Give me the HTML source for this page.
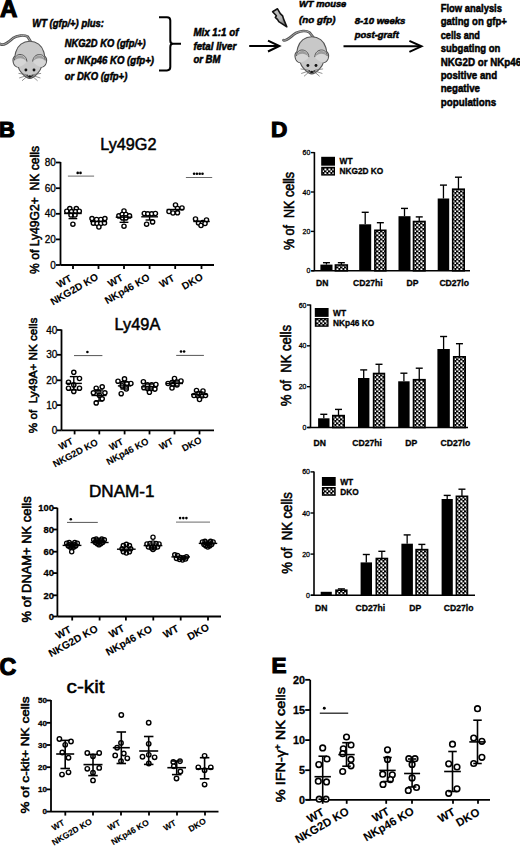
<!DOCTYPE html>
<html><head><meta charset="utf-8"><style>
html,body{margin:0;padding:0;background:#fff;}
svg{display:block;} text{white-space:pre;}
text{font-family:"Liberation Sans", sans-serif;stroke:#000;stroke-width:0.3px;}
</style></head><body>
<svg width="520" height="846" viewBox="0 0 520 846">
<rect width="520" height="846" fill="#fff"/>
<text x="0.00" y="17.20" font-size="24" font-weight="bold" style="stroke-width:1.2px">A</text>
<text x="32.30" y="27.00" font-size="10" font-weight="bold" font-style="italic" textLength="71.70" lengthAdjust="spacingAndGlyphs" style="stroke-width:0.5px">WT (gfp/+) plus:</text>
<text x="64.80" y="46.50" font-size="10" font-weight="bold" font-style="italic" textLength="80.80" lengthAdjust="spacingAndGlyphs" style="stroke-width:0.5px">NKG2D KO (gfp/+)</text>
<text x="64.80" y="63.50" font-size="10" font-weight="bold" font-style="italic" textLength="89.20" lengthAdjust="spacingAndGlyphs" style="stroke-width:0.5px">or NKp46 KO (gfp+)</text>
<text x="64.80" y="80.20" font-size="10" font-weight="bold" font-style="italic" textLength="62.50" lengthAdjust="spacingAndGlyphs" style="stroke-width:0.5px">or DKO (gfp+)</text>
<path d="M159,17.2 L167,17.2 Q170.3,17.2 170.3,20.5 L170.3,40.5 Q170.3,43.8 173,43.8 L181,43.8 M173,43.8 Q170.3,43.8 170.3,47 L170.3,67 Q170.3,70.4 167,70.4 L159,70.4" fill="none" stroke="#000" stroke-width="2"/>
<text x="193.40" y="35.60" font-size="10" font-weight="bold" font-style="italic" textLength="45.00" lengthAdjust="spacingAndGlyphs" style="stroke-width:0.5px">Mix 1:1 of</text>
<text x="193.40" y="49.60" font-size="10" font-weight="bold" font-style="italic" textLength="42.80" lengthAdjust="spacingAndGlyphs" style="stroke-width:0.5px">fetal liver</text>
<text x="193.40" y="63.30" font-size="10" font-weight="bold" font-style="italic" textLength="27.00" lengthAdjust="spacingAndGlyphs" style="stroke-width:0.5px">or BM</text>
<line x1="249.20" y1="46.00" x2="279.00" y2="46.00" stroke="#000" stroke-width="2"/>
<path d="M268,40.6 L279.4,46 L268,51.5" fill="none" stroke="#000" stroke-width="2"/>
<defs><linearGradient id="lg" x1="0" y1="0" x2="1" y2="1"><stop offset="0" stop-color="#c8c8c8"/><stop offset="0.6" stop-color="#b0b0b0"/><stop offset="1" stop-color="#444"/></linearGradient></defs>
<path d="M272.6,11.8 L277.5,8.8 L280.3,13.6 L282.6,15.8 L283.5,18.9 L286.8,26.8 L278.8,21.6 L277.6,19.6 L275.3,17.4 L276.4,15.8 Z" fill="url(#lg)" stroke="#111" stroke-width="1.6" stroke-linejoin="round"/>
<text x="299.00" y="6.80" font-size="9.5" font-weight="bold" font-style="italic" textLength="47.30" lengthAdjust="spacingAndGlyphs" style="stroke-width:0.5px">WT mouse</text>
<text x="299.00" y="22.50" font-size="9.8" font-weight="bold" font-style="italic" textLength="36.40" lengthAdjust="spacingAndGlyphs" style="stroke-width:0.5px">(no gfp)</text>
<text x="354.80" y="24.20" font-size="9.6" font-weight="bold" font-style="italic" textLength="50.60" lengthAdjust="spacingAndGlyphs" style="stroke-width:0.5px">8-10 weeks</text>
<text x="354.80" y="37.70" font-size="9.4" font-weight="bold" font-style="italic" textLength="44.00" lengthAdjust="spacingAndGlyphs" style="stroke-width:0.5px">post-graft</text>
<line x1="343.50" y1="46.30" x2="421.00" y2="46.30" stroke="#000" stroke-width="2"/>
<path d="M409.4,40.8 L421.5,46.3 L409.4,51.8" fill="none" stroke="#000" stroke-width="2"/>
<text x="440.70" y="11.90" font-size="10.8" font-weight="bold" textLength="61.30" lengthAdjust="spacingAndGlyphs" style="stroke-width:0.5px">Flow analysis</text>
<text x="440.70" y="25.32" font-size="10.8" font-weight="bold" textLength="66.20" lengthAdjust="spacingAndGlyphs" style="stroke-width:0.5px">gating on gfp+</text>
<text x="440.70" y="38.74" font-size="10.8" font-weight="bold" textLength="39.30" lengthAdjust="spacingAndGlyphs" style="stroke-width:0.5px">cells and</text>
<text x="440.70" y="52.16" font-size="10.8" font-weight="bold" textLength="59.70" lengthAdjust="spacingAndGlyphs" style="stroke-width:0.5px">subgating on</text>
<text x="440.70" y="65.58" font-size="10.8" font-weight="bold" textLength="80.50" lengthAdjust="spacingAndGlyphs" style="stroke-width:0.5px">NKG2D or NKp46</text>
<text x="440.70" y="79.00" font-size="10.8" font-weight="bold" textLength="56.40" lengthAdjust="spacingAndGlyphs" style="stroke-width:0.5px">positive and</text>
<text x="440.70" y="92.42" font-size="10.8" font-weight="bold" textLength="39.30" lengthAdjust="spacingAndGlyphs" style="stroke-width:0.5px">negative</text>
<text x="440.70" y="105.84" font-size="10.8" font-weight="bold" textLength="55.60" lengthAdjust="spacingAndGlyphs" style="stroke-width:0.5px">populations</text>
<path d="M0.3,44 C3.5,46.3 8,42.5 13,38.2 C17,35.5 24,34.6 27.6,36.6 L30.6,41.5" fill="none" stroke="#555" stroke-width="2.7" stroke-linecap="round"/>
<path d="M0.3,44 C3.5,46.3 8,42.5 13,38.2 C17,35.5 24,34.6 27.6,36.6 L30.6,41.5" fill="none" stroke="#aaa" stroke-width="1.0" stroke-linecap="round"/>
<g transform="translate(0,0)"><path d="M29.8,41.2 C36.5,41.2 42,45.5 43.8,52 C44.2,53.5 44.5,55 44.6,56 C46.5,57.5 47,60 46.3,62.5 C45.5,65.5 43,67 41.2,67.3 C40.6,70.2 36.4,75.2 33.2,77.2 C32,77.9 30.9,78.4 29.8,78.4 C28.7,78.4 27.6,77.9 26.4,77.2 C23.2,75.2 19,70.2 18.4,67.3 C16.6,67 14.1,65.5 13.3,62.5 C12.6,60 13.1,57.5 15,56 C15.1,55 15.4,53.5 15.8,52 C17.6,45.5 23.1,41.2 29.8,41.2 Z" fill="#c8c8c8" stroke="#555" stroke-width="1.1"/><path d="M14.2,60.5 C14.8,56.2 17.3,54.5 20,54.5 C23.6,54.5 26.6,57 26.9,61.5 C25,64.5 21,66.8 18.4,67.1 C16.4,66.6 14.3,64.8 13.8,62.5 Z" fill="#d6d6d6"/><path d="M45.4,60.5 C44.8,56.2 42.3,54.5 39.6,54.5 C36,54.5 33,57 32.7,61.5 C34.6,64.5 38.6,66.8 41.2,67.1 C43.2,66.6 45.3,64.8 45.8,62.5 Z" fill="#d6d6d6"/><path d="M15,60.2 C15.8,57 17.8,55.6 20.1,55.6 C23,55.6 25.5,57.6 26,60.8 C24.6,59 22.6,58.2 20.3,58.2 C18.1,58.2 16.3,59 15,60.2 Z" fill="#9c9c9c"/><path d="M44.6,60.2 C43.8,57 41.8,55.6 39.5,55.6 C36.6,55.6 34.1,57.6 33.6,60.8 C35,59 37,58.2 39.3,58.2 C41.5,58.2 43.3,59 44.6,60.2 Z" fill="#9c9c9c"/><path d="M14.4,60.4 C14.9,56.2 17.4,54.5 20,54.5 C23.6,54.5 26.6,57 26.9,61.6 M45.2,60.4 C44.7,56.2 42.2,54.5 39.6,54.5 C36,54.5 33,57 32.7,61.6" fill="none" stroke="#555" stroke-width="1"/><circle cx="25.9" cy="70" r="1.45" fill="#111"/><circle cx="34" cy="70" r="1.45" fill="#111"/><path d="M26.6,75 C28,76.2 31.6,76.2 33,75 L31.8,77 C30.8,78 28.8,78 27.8,77 Z" fill="#333"/><circle cx="29.8" cy="76.3" r="1.1" fill="#111"/><circle cx="27.2" cy="75.6" r="1" fill="#444"/><circle cx="32.4" cy="75.6" r="1" fill="#444"/><path d="M26.5,74.6 L18.5,73.4 M26.5,75.6 L19.2,78 M27.2,76.3 L22,80.8 M33.1,74.6 L41.1,73.4 M33.1,75.6 L40.4,78 M32.4,76.3 L37.6,80.8" stroke="#666" stroke-width="0.7" fill="none"/></g>
<path d="M283.5,40.2 C287,41.5 291,36 296,33 C300,31 306,30 309.5,32.5 L313.5,37.5" fill="none" stroke="#555" stroke-width="2.7" stroke-linecap="round"/>
<path d="M283.5,40.2 C287,41.5 291,36 296,33 C300,31 306,30 309.5,32.5 L313.5,37.5" fill="none" stroke="#aaa" stroke-width="1.0" stroke-linecap="round"/>
<g transform="translate(282,-4.5)"><path d="M29.8,41.2 C36.5,41.2 42,45.5 43.8,52 C44.2,53.5 44.5,55 44.6,56 C46.5,57.5 47,60 46.3,62.5 C45.5,65.5 43,67 41.2,67.3 C40.6,70.2 36.4,75.2 33.2,77.2 C32,77.9 30.9,78.4 29.8,78.4 C28.7,78.4 27.6,77.9 26.4,77.2 C23.2,75.2 19,70.2 18.4,67.3 C16.6,67 14.1,65.5 13.3,62.5 C12.6,60 13.1,57.5 15,56 C15.1,55 15.4,53.5 15.8,52 C17.6,45.5 23.1,41.2 29.8,41.2 Z" fill="#c8c8c8" stroke="#555" stroke-width="1.1"/><path d="M14.2,60.5 C14.8,56.2 17.3,54.5 20,54.5 C23.6,54.5 26.6,57 26.9,61.5 C25,64.5 21,66.8 18.4,67.1 C16.4,66.6 14.3,64.8 13.8,62.5 Z" fill="#d6d6d6"/><path d="M45.4,60.5 C44.8,56.2 42.3,54.5 39.6,54.5 C36,54.5 33,57 32.7,61.5 C34.6,64.5 38.6,66.8 41.2,67.1 C43.2,66.6 45.3,64.8 45.8,62.5 Z" fill="#d6d6d6"/><path d="M15,60.2 C15.8,57 17.8,55.6 20.1,55.6 C23,55.6 25.5,57.6 26,60.8 C24.6,59 22.6,58.2 20.3,58.2 C18.1,58.2 16.3,59 15,60.2 Z" fill="#9c9c9c"/><path d="M44.6,60.2 C43.8,57 41.8,55.6 39.5,55.6 C36.6,55.6 34.1,57.6 33.6,60.8 C35,59 37,58.2 39.3,58.2 C41.5,58.2 43.3,59 44.6,60.2 Z" fill="#9c9c9c"/><path d="M14.4,60.4 C14.9,56.2 17.4,54.5 20,54.5 C23.6,54.5 26.6,57 26.9,61.6 M45.2,60.4 C44.7,56.2 42.2,54.5 39.6,54.5 C36,54.5 33,57 32.7,61.6" fill="none" stroke="#555" stroke-width="1"/><circle cx="25.9" cy="70" r="1.45" fill="#111"/><circle cx="34" cy="70" r="1.45" fill="#111"/><path d="M26.6,75 C28,76.2 31.6,76.2 33,75 L31.8,77 C30.8,78 28.8,78 27.8,77 Z" fill="#333"/><circle cx="29.8" cy="76.3" r="1.1" fill="#111"/><circle cx="27.2" cy="75.6" r="1" fill="#444"/><circle cx="32.4" cy="75.6" r="1" fill="#444"/><path d="M26.5,74.6 L18.5,73.4 M26.5,75.6 L19.2,78 M27.2,76.3 L22,80.8 M33.1,74.6 L41.1,73.4 M33.1,75.6 L40.4,78 M32.4,76.3 L37.6,80.8" stroke="#666" stroke-width="0.7" fill="none"/></g>
<text x="-1.00" y="136.90" font-size="22" font-weight="bold" style="stroke-width:1.2px">B</text>
<text x="100.30" y="149.60" font-size="16.3" textLength="56.20" lengthAdjust="spacingAndGlyphs" style="stroke-width:0.5px">Ly49G2</text>
<line x1="60.50" y1="162.00" x2="60.50" y2="265.00" stroke="#000" stroke-width="1.8"/>
<line x1="60.50" y1="265.00" x2="214.00" y2="265.00" stroke="#000" stroke-width="1.8"/>
<line x1="56.00" y1="265.00" x2="60.50" y2="265.00" stroke="#000" stroke-width="1.8"/>
<text x="55.80" y="268.58" font-size="10" text-anchor="end" stroke="#000" stroke-width="0.25">0</text>
<line x1="56.00" y1="239.40" x2="60.50" y2="239.40" stroke="#000" stroke-width="1.8"/>
<text x="55.80" y="242.98" font-size="10" text-anchor="end" stroke="#000" stroke-width="0.25">20</text>
<line x1="56.00" y1="213.80" x2="60.50" y2="213.80" stroke="#000" stroke-width="1.8"/>
<text x="55.80" y="217.38" font-size="10" text-anchor="end" stroke="#000" stroke-width="0.25">40</text>
<line x1="56.00" y1="188.20" x2="60.50" y2="188.20" stroke="#000" stroke-width="1.8"/>
<text x="55.80" y="191.78" font-size="10" text-anchor="end" stroke="#000" stroke-width="0.25">60</text>
<line x1="56.00" y1="162.50" x2="60.50" y2="162.50" stroke="#000" stroke-width="1.8"/>
<text x="55.80" y="166.08" font-size="10" text-anchor="end" stroke="#000" stroke-width="0.25">80</text>
<line x1="73.00" y1="265.00" x2="73.00" y2="269.00" stroke="#000" stroke-width="1.8"/>
<line x1="98.50" y1="265.00" x2="98.50" y2="269.00" stroke="#000" stroke-width="1.8"/>
<line x1="124.00" y1="265.00" x2="124.00" y2="269.00" stroke="#000" stroke-width="1.8"/>
<line x1="149.60" y1="265.00" x2="149.60" y2="269.00" stroke="#000" stroke-width="1.8"/>
<line x1="175.20" y1="265.00" x2="175.20" y2="269.00" stroke="#000" stroke-width="1.8"/>
<line x1="201.50" y1="265.00" x2="201.50" y2="269.00" stroke="#000" stroke-width="1.8"/>
<text x="38.70" y="210.00" font-size="12.6" text-anchor="middle" textLength="128.00" lengthAdjust="spacingAndGlyphs" transform="rotate(-90 38.70 210.00)" style="stroke-width:0.55px">% of Ly49G2+  NK cells</text>
<line x1="67.90" y1="176.10" x2="94.10" y2="176.10" stroke="#6a6a6a" stroke-width="1.0"/>
<circle cx="77.70" cy="172.90" r="1.3" fill="#000"/>
<circle cx="80.50" cy="172.90" r="1.3" fill="#000"/>
<line x1="185.90" y1="177.50" x2="212.20" y2="177.50" stroke="#6a6a6a" stroke-width="1.0"/>
<circle cx="194.10" cy="173.70" r="1.3" fill="#000"/>
<circle cx="196.90" cy="173.70" r="1.3" fill="#000"/>
<circle cx="199.70" cy="173.70" r="1.3" fill="#000"/>
<circle cx="202.50" cy="173.70" r="1.3" fill="#000"/>
<circle cx="69.80" cy="208.60" r="2.10" fill="#fff" stroke="#000" stroke-width="1.4"/>
<circle cx="76.30" cy="208.60" r="2.10" fill="#fff" stroke="#000" stroke-width="1.4"/>
<circle cx="66.80" cy="211.20" r="2.10" fill="#fff" stroke="#000" stroke-width="1.4"/>
<circle cx="71.50" cy="211.60" r="2.10" fill="#fff" stroke="#000" stroke-width="1.4"/>
<circle cx="75.50" cy="211.60" r="2.10" fill="#fff" stroke="#000" stroke-width="1.4"/>
<circle cx="79.30" cy="211.20" r="2.10" fill="#fff" stroke="#000" stroke-width="1.4"/>
<circle cx="71.00" cy="215.00" r="2.10" fill="#fff" stroke="#000" stroke-width="1.4"/>
<circle cx="75.00" cy="215.00" r="2.10" fill="#fff" stroke="#000" stroke-width="1.4"/>
<circle cx="72.90" cy="224.20" r="2.10" fill="#fff" stroke="#000" stroke-width="1.4"/>
<line x1="72.90" y1="213.50" x2="72.90" y2="218.60" stroke="#000" stroke-width="1.4"/>
<line x1="68.55" y1="218.60" x2="77.25" y2="218.60" stroke="#000" stroke-width="1.4"/>
<line x1="64.10" y1="213.50" x2="81.70" y2="213.50" stroke="#000" stroke-width="1.4"/>
<circle cx="92.00" cy="218.60" r="2.10" fill="#fff" stroke="#000" stroke-width="1.4"/>
<circle cx="96.60" cy="219.50" r="2.10" fill="#fff" stroke="#000" stroke-width="1.4"/>
<circle cx="100.80" cy="219.50" r="2.10" fill="#fff" stroke="#000" stroke-width="1.4"/>
<circle cx="104.90" cy="218.60" r="2.10" fill="#fff" stroke="#000" stroke-width="1.4"/>
<circle cx="93.40" cy="223.20" r="2.10" fill="#fff" stroke="#000" stroke-width="1.4"/>
<circle cx="97.10" cy="223.50" r="2.10" fill="#fff" stroke="#000" stroke-width="1.4"/>
<circle cx="100.80" cy="223.50" r="2.10" fill="#fff" stroke="#000" stroke-width="1.4"/>
<circle cx="104.50" cy="223.00" r="2.10" fill="#fff" stroke="#000" stroke-width="1.4"/>
<circle cx="98.90" cy="227.00" r="2.10" fill="#fff" stroke="#000" stroke-width="1.4"/>
<line x1="90.00" y1="221.50" x2="107.00" y2="221.50" stroke="#000" stroke-width="1.4"/>
<circle cx="124.00" cy="211.00" r="2.10" fill="#fff" stroke="#000" stroke-width="1.4"/>
<circle cx="118.90" cy="215.90" r="2.10" fill="#fff" stroke="#000" stroke-width="1.4"/>
<circle cx="122.20" cy="214.50" r="2.10" fill="#fff" stroke="#000" stroke-width="1.4"/>
<circle cx="125.90" cy="214.50" r="2.10" fill="#fff" stroke="#000" stroke-width="1.4"/>
<circle cx="129.50" cy="215.90" r="2.10" fill="#fff" stroke="#000" stroke-width="1.4"/>
<circle cx="122.60" cy="217.90" r="2.10" fill="#fff" stroke="#000" stroke-width="1.4"/>
<circle cx="125.90" cy="217.90" r="2.10" fill="#fff" stroke="#000" stroke-width="1.4"/>
<circle cx="124.00" cy="226.20" r="2.10" fill="#fff" stroke="#000" stroke-width="1.4"/>
<line x1="124.00" y1="217.20" x2="124.00" y2="222.30" stroke="#000" stroke-width="1.4"/>
<line x1="119.60" y1="222.30" x2="128.40" y2="222.30" stroke="#000" stroke-width="1.4"/>
<line x1="115.70" y1="217.20" x2="132.30" y2="217.20" stroke="#000" stroke-width="1.4"/>
<circle cx="144.30" cy="213.50" r="2.10" fill="#fff" stroke="#000" stroke-width="1.4"/>
<circle cx="147.80" cy="213.80" r="2.10" fill="#fff" stroke="#000" stroke-width="1.4"/>
<circle cx="151.70" cy="213.80" r="2.10" fill="#fff" stroke="#000" stroke-width="1.4"/>
<circle cx="155.40" cy="213.50" r="2.10" fill="#fff" stroke="#000" stroke-width="1.4"/>
<circle cx="146.60" cy="224.20" r="2.10" fill="#fff" stroke="#000" stroke-width="1.4"/>
<circle cx="152.60" cy="221.90" r="2.10" fill="#fff" stroke="#000" stroke-width="1.4"/>
<line x1="149.60" y1="216.80" x2="149.60" y2="220.00" stroke="#000" stroke-width="1.4"/>
<line x1="145.60" y1="220.00" x2="153.60" y2="220.00" stroke="#000" stroke-width="1.4"/>
<line x1="141.25" y1="216.80" x2="157.95" y2="216.80" stroke="#000" stroke-width="1.4"/>
<circle cx="175.50" cy="205.00" r="2.10" fill="#fff" stroke="#000" stroke-width="1.4"/>
<circle cx="177.50" cy="208.50" r="2.10" fill="#fff" stroke="#000" stroke-width="1.4"/>
<circle cx="182.00" cy="208.00" r="2.10" fill="#fff" stroke="#000" stroke-width="1.4"/>
<circle cx="169.00" cy="211.50" r="2.10" fill="#fff" stroke="#000" stroke-width="1.4"/>
<circle cx="173.00" cy="213.00" r="2.10" fill="#fff" stroke="#000" stroke-width="1.4"/>
<circle cx="177.50" cy="212.80" r="2.10" fill="#fff" stroke="#000" stroke-width="1.4"/>
<line x1="166.70" y1="209.50" x2="183.70" y2="209.50" stroke="#000" stroke-width="1.4"/>
<circle cx="195.50" cy="219.00" r="2.10" fill="#fff" stroke="#000" stroke-width="1.4"/>
<circle cx="206.50" cy="220.00" r="2.10" fill="#fff" stroke="#000" stroke-width="1.4"/>
<circle cx="198.50" cy="223.00" r="2.10" fill="#fff" stroke="#000" stroke-width="1.4"/>
<circle cx="202.50" cy="222.50" r="2.10" fill="#fff" stroke="#000" stroke-width="1.4"/>
<circle cx="201.00" cy="225.50" r="2.10" fill="#fff" stroke="#000" stroke-width="1.4"/>
<circle cx="205.00" cy="223.50" r="2.10" fill="#fff" stroke="#000" stroke-width="1.4"/>
<line x1="193.25" y1="221.50" x2="209.75" y2="221.50" stroke="#000" stroke-width="1.4"/>
<text x="72.60" y="280.30" font-size="10.1" font-weight="bold" text-anchor="end" transform="rotate(-30 72.60 280.30)" style="stroke-width:0.1px">WT</text>
<text x="99.15" y="278.90" font-size="10.1" font-weight="bold" text-anchor="end" transform="rotate(-30 99.15 278.90)" style="stroke-width:0.1px">NKG2D KO</text>
<text x="123.75" y="279.60" font-size="10.1" font-weight="bold" text-anchor="end" transform="rotate(-30 123.75 279.60)" style="stroke-width:0.1px">WT</text>
<text x="150.50" y="279.35" font-size="10.1" font-weight="bold" text-anchor="end" transform="rotate(-30 150.50 279.35)" style="stroke-width:0.1px">NKp46 KO</text>
<text x="175.25" y="280.10" font-size="10.1" font-weight="bold" text-anchor="end" transform="rotate(-30 175.25 280.10)" style="stroke-width:0.1px">WT</text>
<text x="203.75" y="278.85" font-size="10.1" font-weight="bold" text-anchor="end" transform="rotate(-30 203.75 278.85)" style="stroke-width:0.1px">DKO</text>
<text x="114.60" y="329.90" font-size="16.3" textLength="45.70" lengthAdjust="spacingAndGlyphs" style="stroke-width:0.5px">Ly49A</text>
<line x1="61.50" y1="329.50" x2="61.50" y2="430.40" stroke="#000" stroke-width="1.8"/>
<line x1="61.50" y1="430.40" x2="214.00" y2="430.40" stroke="#000" stroke-width="1.8"/>
<line x1="57.00" y1="430.40" x2="61.50" y2="430.40" stroke="#000" stroke-width="1.8"/>
<text x="57.30" y="433.98" font-size="10" text-anchor="end" stroke="#000" stroke-width="0.25">0</text>
<line x1="57.00" y1="405.10" x2="61.50" y2="405.10" stroke="#000" stroke-width="1.8"/>
<text x="57.30" y="408.68" font-size="10" text-anchor="end" stroke="#000" stroke-width="0.25">10</text>
<line x1="57.00" y1="380.30" x2="61.50" y2="380.30" stroke="#000" stroke-width="1.8"/>
<text x="57.30" y="383.88" font-size="10" text-anchor="end" stroke="#000" stroke-width="0.25">20</text>
<line x1="57.00" y1="354.80" x2="61.50" y2="354.80" stroke="#000" stroke-width="1.8"/>
<text x="57.30" y="358.38" font-size="10" text-anchor="end" stroke="#000" stroke-width="0.25">30</text>
<line x1="57.00" y1="330.00" x2="61.50" y2="330.00" stroke="#000" stroke-width="1.8"/>
<text x="57.30" y="333.58" font-size="10" text-anchor="end" stroke="#000" stroke-width="0.25">40</text>
<line x1="74.60" y1="430.40" x2="74.60" y2="434.40" stroke="#000" stroke-width="1.8"/>
<line x1="99.30" y1="430.40" x2="99.30" y2="434.40" stroke="#000" stroke-width="1.8"/>
<line x1="124.60" y1="430.40" x2="124.60" y2="434.40" stroke="#000" stroke-width="1.8"/>
<line x1="149.50" y1="430.40" x2="149.50" y2="434.40" stroke="#000" stroke-width="1.8"/>
<line x1="174.50" y1="430.40" x2="174.50" y2="434.40" stroke="#000" stroke-width="1.8"/>
<line x1="199.50" y1="430.40" x2="199.50" y2="434.40" stroke="#000" stroke-width="1.8"/>
<text x="36.60" y="375.40" font-size="11.4" text-anchor="middle" textLength="115.50" lengthAdjust="spacingAndGlyphs" transform="rotate(-90 36.60 375.40)" style="stroke-width:0.55px">% of  Ly49A+ NK cells</text>
<line x1="74.00" y1="355.60" x2="102.40" y2="355.60" stroke="#555" stroke-width="1.0"/>
<circle cx="87.40" cy="352.00" r="1.3" fill="#000"/>
<line x1="176.20" y1="355.40" x2="203.90" y2="355.40" stroke="#555" stroke-width="1.0"/>
<circle cx="181.00" cy="351.50" r="1.3" fill="#000"/>
<circle cx="184.10" cy="351.50" r="1.3" fill="#000"/>
<circle cx="73.80" cy="372.30" r="2.10" fill="#fff" stroke="#000" stroke-width="1.4"/>
<circle cx="79.50" cy="378.50" r="2.10" fill="#fff" stroke="#000" stroke-width="1.4"/>
<circle cx="68.50" cy="382.20" r="2.10" fill="#fff" stroke="#000" stroke-width="1.4"/>
<circle cx="73.80" cy="384.90" r="2.10" fill="#fff" stroke="#000" stroke-width="1.4"/>
<circle cx="68.50" cy="388.20" r="2.10" fill="#fff" stroke="#000" stroke-width="1.4"/>
<circle cx="79.50" cy="388.20" r="2.10" fill="#fff" stroke="#000" stroke-width="1.4"/>
<circle cx="73.80" cy="391.40" r="2.10" fill="#fff" stroke="#000" stroke-width="1.4"/>
<line x1="73.80" y1="376.60" x2="73.80" y2="390.00" stroke="#000" stroke-width="1.4"/>
<line x1="69.85" y1="376.60" x2="77.75" y2="376.60" stroke="#000" stroke-width="1.4"/>
<line x1="69.85" y1="390.00" x2="77.75" y2="390.00" stroke="#000" stroke-width="1.4"/>
<line x1="65.75" y1="383.40" x2="81.85" y2="383.40" stroke="#000" stroke-width="1.4"/>
<circle cx="96.20" cy="388.20" r="2.10" fill="#fff" stroke="#000" stroke-width="1.4"/>
<circle cx="102.20" cy="386.80" r="2.10" fill="#fff" stroke="#000" stroke-width="1.4"/>
<circle cx="93.40" cy="392.80" r="2.10" fill="#fff" stroke="#000" stroke-width="1.4"/>
<circle cx="98.90" cy="392.30" r="2.10" fill="#fff" stroke="#000" stroke-width="1.4"/>
<circle cx="104.90" cy="392.80" r="2.10" fill="#fff" stroke="#000" stroke-width="1.4"/>
<circle cx="99.40" cy="395.50" r="2.10" fill="#fff" stroke="#000" stroke-width="1.4"/>
<circle cx="102.20" cy="398.80" r="2.10" fill="#fff" stroke="#000" stroke-width="1.4"/>
<circle cx="96.20" cy="402.90" r="2.10" fill="#fff" stroke="#000" stroke-width="1.4"/>
<line x1="99.00" y1="390.00" x2="99.00" y2="401.00" stroke="#000" stroke-width="1.4"/>
<line x1="95.00" y1="390.00" x2="103.00" y2="390.00" stroke="#000" stroke-width="1.4"/>
<line x1="95.00" y1="401.00" x2="103.00" y2="401.00" stroke="#000" stroke-width="1.4"/>
<line x1="91.50" y1="395.50" x2="106.50" y2="395.50" stroke="#000" stroke-width="1.4"/>
<circle cx="118.00" cy="381.20" r="2.10" fill="#fff" stroke="#000" stroke-width="1.4"/>
<circle cx="124.50" cy="378.90" r="2.10" fill="#fff" stroke="#000" stroke-width="1.4"/>
<circle cx="130.90" cy="383.50" r="2.10" fill="#fff" stroke="#000" stroke-width="1.4"/>
<circle cx="122.60" cy="383.50" r="2.10" fill="#fff" stroke="#000" stroke-width="1.4"/>
<circle cx="126.80" cy="383.50" r="2.10" fill="#fff" stroke="#000" stroke-width="1.4"/>
<circle cx="122.20" cy="385.90" r="2.10" fill="#fff" stroke="#000" stroke-width="1.4"/>
<circle cx="126.30" cy="387.20" r="2.10" fill="#fff" stroke="#000" stroke-width="1.4"/>
<circle cx="126.30" cy="389.00" r="2.10" fill="#fff" stroke="#000" stroke-width="1.4"/>
<circle cx="121.20" cy="393.70" r="2.10" fill="#fff" stroke="#000" stroke-width="1.4"/>
<line x1="124.50" y1="382.00" x2="124.50" y2="389.00" stroke="#000" stroke-width="1.4"/>
<line x1="120.50" y1="382.00" x2="128.50" y2="382.00" stroke="#000" stroke-width="1.4"/>
<line x1="120.50" y1="389.00" x2="128.50" y2="389.00" stroke="#000" stroke-width="1.4"/>
<line x1="117.85" y1="385.90" x2="131.15" y2="385.90" stroke="#000" stroke-width="1.4"/>
<circle cx="143.40" cy="381.70" r="2.10" fill="#fff" stroke="#000" stroke-width="1.4"/>
<circle cx="147.50" cy="384.90" r="2.10" fill="#fff" stroke="#000" stroke-width="1.4"/>
<circle cx="151.70" cy="384.90" r="2.10" fill="#fff" stroke="#000" stroke-width="1.4"/>
<circle cx="155.90" cy="384.50" r="2.10" fill="#fff" stroke="#000" stroke-width="1.4"/>
<circle cx="143.90" cy="387.70" r="2.10" fill="#fff" stroke="#000" stroke-width="1.4"/>
<circle cx="147.50" cy="388.60" r="2.10" fill="#fff" stroke="#000" stroke-width="1.4"/>
<circle cx="151.20" cy="388.60" r="2.10" fill="#fff" stroke="#000" stroke-width="1.4"/>
<circle cx="154.90" cy="389.10" r="2.10" fill="#fff" stroke="#000" stroke-width="1.4"/>
<circle cx="149.40" cy="392.30" r="2.10" fill="#fff" stroke="#000" stroke-width="1.4"/>
<line x1="149.50" y1="384.00" x2="149.50" y2="389.00" stroke="#000" stroke-width="1.4"/>
<line x1="145.50" y1="384.00" x2="153.50" y2="384.00" stroke="#000" stroke-width="1.4"/>
<line x1="145.50" y1="389.00" x2="153.50" y2="389.00" stroke="#000" stroke-width="1.4"/>
<line x1="141.40" y1="386.80" x2="157.60" y2="386.80" stroke="#000" stroke-width="1.4"/>
<circle cx="174.50" cy="378.50" r="2.10" fill="#fff" stroke="#000" stroke-width="1.4"/>
<circle cx="181.00" cy="381.00" r="2.10" fill="#fff" stroke="#000" stroke-width="1.4"/>
<circle cx="177.00" cy="382.00" r="2.10" fill="#fff" stroke="#000" stroke-width="1.4"/>
<circle cx="168.00" cy="383.50" r="2.10" fill="#fff" stroke="#000" stroke-width="1.4"/>
<circle cx="172.00" cy="382.50" r="2.10" fill="#fff" stroke="#000" stroke-width="1.4"/>
<circle cx="177.00" cy="385.00" r="2.10" fill="#fff" stroke="#000" stroke-width="1.4"/>
<circle cx="173.00" cy="384.50" r="2.10" fill="#fff" stroke="#000" stroke-width="1.4"/>
<circle cx="172.00" cy="388.00" r="2.10" fill="#fff" stroke="#000" stroke-width="1.4"/>
<line x1="174.50" y1="381.00" x2="174.50" y2="386.00" stroke="#000" stroke-width="1.4"/>
<line x1="170.50" y1="381.00" x2="178.50" y2="381.00" stroke="#000" stroke-width="1.4"/>
<line x1="170.50" y1="386.00" x2="178.50" y2="386.00" stroke="#000" stroke-width="1.4"/>
<line x1="166.00" y1="383.50" x2="183.00" y2="383.50" stroke="#000" stroke-width="1.4"/>
<circle cx="196.50" cy="390.50" r="2.10" fill="#fff" stroke="#000" stroke-width="1.4"/>
<circle cx="203.00" cy="391.00" r="2.10" fill="#fff" stroke="#000" stroke-width="1.4"/>
<circle cx="194.00" cy="395.50" r="2.10" fill="#fff" stroke="#000" stroke-width="1.4"/>
<circle cx="198.00" cy="396.00" r="2.10" fill="#fff" stroke="#000" stroke-width="1.4"/>
<circle cx="202.00" cy="396.00" r="2.10" fill="#fff" stroke="#000" stroke-width="1.4"/>
<circle cx="205.50" cy="395.50" r="2.10" fill="#fff" stroke="#000" stroke-width="1.4"/>
<circle cx="199.50" cy="399.50" r="2.10" fill="#fff" stroke="#000" stroke-width="1.4"/>
<circle cx="199.00" cy="393.50" r="2.10" fill="#fff" stroke="#000" stroke-width="1.4"/>
<line x1="199.50" y1="392.00" x2="199.50" y2="397.00" stroke="#000" stroke-width="1.4"/>
<line x1="195.50" y1="392.00" x2="203.50" y2="392.00" stroke="#000" stroke-width="1.4"/>
<line x1="195.50" y1="397.00" x2="203.50" y2="397.00" stroke="#000" stroke-width="1.4"/>
<line x1="191.00" y1="394.50" x2="208.00" y2="394.50" stroke="#000" stroke-width="1.4"/>
<text x="73.70" y="443.35" font-size="9.4" font-weight="bold" text-anchor="end" transform="rotate(-28 73.70 443.35)" style="stroke-width:0.1px">WT</text>
<text x="98.65" y="444.30" font-size="9.4" font-weight="bold" text-anchor="end" transform="rotate(-28 98.65 444.30)" style="stroke-width:0.1px">NKG2D KO</text>
<text x="124.10" y="443.90" font-size="9.4" font-weight="bold" text-anchor="end" transform="rotate(-28 124.10 443.90)" style="stroke-width:0.1px">WT</text>
<text x="149.45" y="443.45" font-size="9.4" font-weight="bold" text-anchor="end" transform="rotate(-28 149.45 443.45)" style="stroke-width:0.1px">NKp46 KO</text>
<text x="174.00" y="443.30" font-size="9.4" font-weight="bold" text-anchor="end" transform="rotate(-28 174.00 443.30)" style="stroke-width:0.1px">WT</text>
<text x="202.35" y="442.05" font-size="9.4" font-weight="bold" text-anchor="end" transform="rotate(-28 202.35 442.05)" style="stroke-width:0.1px">DKO</text>
<text x="89.00" y="496.60" font-size="16.6" textLength="65.40" lengthAdjust="spacingAndGlyphs" style="stroke-width:0.5px">DNAM-1</text>
<line x1="57.40" y1="507.80" x2="57.40" y2="616.50" stroke="#000" stroke-width="1.8"/>
<line x1="57.40" y1="616.50" x2="221.00" y2="616.50" stroke="#000" stroke-width="1.8"/>
<line x1="52.90" y1="616.50" x2="57.40" y2="616.50" stroke="#000" stroke-width="1.8"/>
<text x="54.00" y="619.87" font-size="9.4" font-weight="bold" text-anchor="end" stroke="#000" stroke-width="0.25">0</text>
<line x1="52.90" y1="595.30" x2="57.40" y2="595.30" stroke="#000" stroke-width="1.8"/>
<text x="54.00" y="598.67" font-size="9.4" font-weight="bold" text-anchor="end" stroke="#000" stroke-width="0.25">20</text>
<line x1="52.90" y1="573.10" x2="57.40" y2="573.10" stroke="#000" stroke-width="1.8"/>
<text x="54.00" y="576.47" font-size="9.4" font-weight="bold" text-anchor="end" stroke="#000" stroke-width="0.25">40</text>
<line x1="52.90" y1="551.70" x2="57.40" y2="551.70" stroke="#000" stroke-width="1.8"/>
<text x="54.00" y="555.07" font-size="9.4" font-weight="bold" text-anchor="end" stroke="#000" stroke-width="0.25">60</text>
<line x1="52.90" y1="529.50" x2="57.40" y2="529.50" stroke="#000" stroke-width="1.8"/>
<text x="54.00" y="532.87" font-size="9.4" font-weight="bold" text-anchor="end" stroke="#000" stroke-width="0.25">80</text>
<line x1="52.90" y1="508.10" x2="57.40" y2="508.10" stroke="#000" stroke-width="1.8"/>
<text x="54.00" y="511.47" font-size="9.4" font-weight="bold" text-anchor="end" stroke="#000" stroke-width="0.25">100</text>
<line x1="72.20" y1="616.50" x2="72.20" y2="620.50" stroke="#000" stroke-width="1.8"/>
<line x1="99.60" y1="616.50" x2="99.60" y2="620.50" stroke="#000" stroke-width="1.8"/>
<line x1="125.90" y1="616.50" x2="125.90" y2="620.50" stroke="#000" stroke-width="1.8"/>
<line x1="153.30" y1="616.50" x2="153.30" y2="620.50" stroke="#000" stroke-width="1.8"/>
<line x1="180.70" y1="616.50" x2="180.70" y2="620.50" stroke="#000" stroke-width="1.8"/>
<line x1="208.00" y1="616.50" x2="208.00" y2="620.50" stroke="#000" stroke-width="1.8"/>
<text x="31.30" y="559.40" font-size="12.5" text-anchor="middle" textLength="126.00" lengthAdjust="spacingAndGlyphs" transform="rotate(-90 31.30 559.40)" style="stroke-width:0.55px">% of DNAM+ NK cells</text>
<line x1="67.00" y1="522.40" x2="97.80" y2="522.40" stroke="#555" stroke-width="1.0"/>
<circle cx="70.80" cy="519.30" r="1.3" fill="#000"/>
<line x1="176.00" y1="522.10" x2="210.00" y2="522.10" stroke="#6a6a6a" stroke-width="1.0"/>
<circle cx="180.10" cy="518.10" r="1.3" fill="#000"/>
<circle cx="183.30" cy="518.10" r="1.3" fill="#000"/>
<circle cx="186.40" cy="518.10" r="1.3" fill="#000"/>
<circle cx="66.70" cy="543.20" r="2.10" fill="none" stroke="#000" stroke-width="1.4"/>
<circle cx="69.20" cy="542.50" r="2.10" fill="none" stroke="#000" stroke-width="1.4"/>
<circle cx="70.40" cy="544.20" r="2.10" fill="none" stroke="#000" stroke-width="1.4"/>
<circle cx="73.60" cy="544.20" r="2.10" fill="none" stroke="#000" stroke-width="1.4"/>
<circle cx="74.80" cy="542.50" r="2.10" fill="none" stroke="#000" stroke-width="1.4"/>
<circle cx="77.30" cy="543.20" r="2.10" fill="none" stroke="#000" stroke-width="1.4"/>
<circle cx="68.20" cy="545.70" r="2.10" fill="none" stroke="#000" stroke-width="1.4"/>
<circle cx="70.00" cy="547.00" r="2.10" fill="none" stroke="#000" stroke-width="1.4"/>
<circle cx="72.00" cy="548.20" r="2.10" fill="none" stroke="#000" stroke-width="1.4"/>
<circle cx="74.00" cy="547.00" r="2.10" fill="none" stroke="#000" stroke-width="1.4"/>
<circle cx="75.80" cy="545.70" r="2.10" fill="none" stroke="#000" stroke-width="1.4"/>
<circle cx="72.00" cy="545.20" r="2.10" fill="none" stroke="#000" stroke-width="1.4"/>
<line x1="62.60" y1="545.40" x2="81.40" y2="545.40" stroke="#000" stroke-width="1.4"/>
<circle cx="71.70" cy="551.80" r="2.10" fill="#fff" stroke="#000" stroke-width="1.3"/>
<circle cx="93.70" cy="539.80" r="2.10" fill="none" stroke="#000" stroke-width="1.4"/>
<circle cx="96.20" cy="539.10" r="2.10" fill="none" stroke="#000" stroke-width="1.4"/>
<circle cx="97.40" cy="540.80" r="2.10" fill="none" stroke="#000" stroke-width="1.4"/>
<circle cx="100.60" cy="540.80" r="2.10" fill="none" stroke="#000" stroke-width="1.4"/>
<circle cx="101.80" cy="539.10" r="2.10" fill="none" stroke="#000" stroke-width="1.4"/>
<circle cx="104.30" cy="539.80" r="2.10" fill="none" stroke="#000" stroke-width="1.4"/>
<circle cx="95.20" cy="542.30" r="2.10" fill="none" stroke="#000" stroke-width="1.4"/>
<circle cx="97.00" cy="543.60" r="2.10" fill="none" stroke="#000" stroke-width="1.4"/>
<circle cx="99.00" cy="544.80" r="2.10" fill="none" stroke="#000" stroke-width="1.4"/>
<circle cx="101.00" cy="543.60" r="2.10" fill="none" stroke="#000" stroke-width="1.4"/>
<circle cx="102.80" cy="542.30" r="2.10" fill="none" stroke="#000" stroke-width="1.4"/>
<circle cx="99.00" cy="541.80" r="2.10" fill="none" stroke="#000" stroke-width="1.4"/>
<line x1="90.60" y1="542.50" x2="108.60" y2="542.50" stroke="#000" stroke-width="1.4"/>
<circle cx="130.70" cy="548.70" r="2.10" fill="none" stroke="#000" stroke-width="1.4"/>
<circle cx="129.44" cy="551.74" r="2.10" fill="none" stroke="#000" stroke-width="1.4"/>
<circle cx="126.40" cy="553.00" r="2.10" fill="none" stroke="#000" stroke-width="1.4"/>
<circle cx="123.36" cy="551.74" r="2.10" fill="none" stroke="#000" stroke-width="1.4"/>
<circle cx="122.10" cy="548.70" r="2.10" fill="none" stroke="#000" stroke-width="1.4"/>
<circle cx="123.36" cy="545.66" r="2.10" fill="none" stroke="#000" stroke-width="1.4"/>
<circle cx="126.40" cy="544.40" r="2.10" fill="none" stroke="#000" stroke-width="1.4"/>
<circle cx="129.44" cy="545.66" r="2.10" fill="none" stroke="#000" stroke-width="1.4"/>
<circle cx="126.40" cy="548.70" r="2.10" fill="none" stroke="#000" stroke-width="1.4"/>
<line x1="116.95" y1="549.20" x2="135.65" y2="549.20" stroke="#000" stroke-width="1.4"/>
<circle cx="147.00" cy="544.00" r="2.10" fill="none" stroke="#000" stroke-width="1.4"/>
<circle cx="150.00" cy="543.50" r="2.10" fill="none" stroke="#000" stroke-width="1.4"/>
<circle cx="153.00" cy="543.00" r="2.10" fill="none" stroke="#000" stroke-width="1.4"/>
<circle cx="156.00" cy="543.50" r="2.10" fill="none" stroke="#000" stroke-width="1.4"/>
<circle cx="159.00" cy="544.00" r="2.10" fill="none" stroke="#000" stroke-width="1.4"/>
<circle cx="148.50" cy="547.00" r="2.10" fill="none" stroke="#000" stroke-width="1.4"/>
<circle cx="151.50" cy="548.00" r="2.10" fill="none" stroke="#000" stroke-width="1.4"/>
<circle cx="154.50" cy="548.00" r="2.10" fill="none" stroke="#000" stroke-width="1.4"/>
<circle cx="157.50" cy="547.00" r="2.10" fill="none" stroke="#000" stroke-width="1.4"/>
<circle cx="153.00" cy="549.50" r="2.10" fill="none" stroke="#000" stroke-width="1.4"/>
<line x1="143.65" y1="545.60" x2="162.35" y2="545.60" stroke="#000" stroke-width="1.4"/>
<circle cx="153.00" cy="537.20" r="2.10" fill="#fff" stroke="#000" stroke-width="1.3"/>
<circle cx="174.80" cy="554.80" r="2.10" fill="none" stroke="#000" stroke-width="1.4"/>
<circle cx="177.50" cy="555.50" r="2.10" fill="none" stroke="#000" stroke-width="1.4"/>
<circle cx="180.50" cy="557.50" r="2.10" fill="none" stroke="#000" stroke-width="1.4"/>
<circle cx="183.50" cy="557.80" r="2.10" fill="none" stroke="#000" stroke-width="1.4"/>
<circle cx="186.50" cy="556.80" r="2.10" fill="none" stroke="#000" stroke-width="1.4"/>
<circle cx="176.50" cy="558.50" r="2.10" fill="none" stroke="#000" stroke-width="1.4"/>
<circle cx="179.50" cy="559.50" r="2.10" fill="none" stroke="#000" stroke-width="1.4"/>
<circle cx="182.50" cy="560.00" r="2.10" fill="none" stroke="#000" stroke-width="1.4"/>
<circle cx="185.50" cy="559.00" r="2.10" fill="none" stroke="#000" stroke-width="1.4"/>
<line x1="171.45" y1="556.90" x2="189.95" y2="556.90" stroke="#000" stroke-width="1.4"/>
<circle cx="202.50" cy="542.00" r="2.10" fill="none" stroke="#000" stroke-width="1.4"/>
<circle cx="205.00" cy="541.30" r="2.10" fill="none" stroke="#000" stroke-width="1.4"/>
<circle cx="206.20" cy="543.00" r="2.10" fill="none" stroke="#000" stroke-width="1.4"/>
<circle cx="209.40" cy="543.00" r="2.10" fill="none" stroke="#000" stroke-width="1.4"/>
<circle cx="210.60" cy="541.30" r="2.10" fill="none" stroke="#000" stroke-width="1.4"/>
<circle cx="213.10" cy="542.00" r="2.10" fill="none" stroke="#000" stroke-width="1.4"/>
<circle cx="204.00" cy="544.50" r="2.10" fill="none" stroke="#000" stroke-width="1.4"/>
<circle cx="205.80" cy="545.80" r="2.10" fill="none" stroke="#000" stroke-width="1.4"/>
<circle cx="207.80" cy="547.00" r="2.10" fill="none" stroke="#000" stroke-width="1.4"/>
<circle cx="209.80" cy="545.80" r="2.10" fill="none" stroke="#000" stroke-width="1.4"/>
<circle cx="211.60" cy="544.50" r="2.10" fill="none" stroke="#000" stroke-width="1.4"/>
<circle cx="207.80" cy="544.00" r="2.10" fill="none" stroke="#000" stroke-width="1.4"/>
<line x1="198.75" y1="543.40" x2="217.25" y2="543.40" stroke="#000" stroke-width="1.4"/>
<text x="72.10" y="631.70" font-size="10.35" font-weight="bold" text-anchor="end" transform="rotate(-29 72.10 631.70)" style="stroke-width:0.1px">WT</text>
<text x="98.70" y="630.80" font-size="10.35" font-weight="bold" text-anchor="end" transform="rotate(-29 98.70 630.80)" style="stroke-width:0.1px">NKG2D KO</text>
<text x="125.30" y="630.50" font-size="10.35" font-weight="bold" text-anchor="end" transform="rotate(-29 125.30 630.50)" style="stroke-width:0.1px">WT</text>
<text x="153.00" y="631.10" font-size="10.35" font-weight="bold" text-anchor="end" transform="rotate(-29 153.00 631.10)" style="stroke-width:0.1px">NKp46 KO</text>
<text x="179.50" y="630.60" font-size="10.35" font-weight="bold" text-anchor="end" transform="rotate(-29 179.50 630.60)" style="stroke-width:0.1px">WT</text>
<text x="209.95" y="629.45" font-size="10.35" font-weight="bold" text-anchor="end" transform="rotate(-29 209.95 629.45)" style="stroke-width:0.1px">DKO</text>
<text x="-0.60" y="674.60" font-size="23.2" font-weight="bold" style="stroke-width:1.2px">C</text>
<text x="66.60" y="692.50" font-size="18.5" textLength="38.00" lengthAdjust="spacingAndGlyphs" style="stroke-width:0.5px">c-kit</text>
<line x1="51.00" y1="700.00" x2="51.00" y2="811.60" stroke="#000" stroke-width="1.8"/>
<line x1="51.00" y1="811.60" x2="218.50" y2="811.60" stroke="#000" stroke-width="1.8"/>
<line x1="46.50" y1="811.60" x2="51.00" y2="811.60" stroke="#000" stroke-width="1.8"/>
<text x="47.00" y="814.46" font-size="8" font-weight="bold" text-anchor="end" stroke="#000" stroke-width="0.25">0</text>
<line x1="46.50" y1="789.40" x2="51.00" y2="789.40" stroke="#000" stroke-width="1.8"/>
<text x="47.00" y="792.26" font-size="8" font-weight="bold" text-anchor="end" stroke="#000" stroke-width="0.25">10</text>
<line x1="46.50" y1="767.20" x2="51.00" y2="767.20" stroke="#000" stroke-width="1.8"/>
<text x="47.00" y="770.06" font-size="8" font-weight="bold" text-anchor="end" stroke="#000" stroke-width="0.25">20</text>
<line x1="46.50" y1="745.00" x2="51.00" y2="745.00" stroke="#000" stroke-width="1.8"/>
<text x="47.00" y="747.86" font-size="8" font-weight="bold" text-anchor="end" stroke="#000" stroke-width="0.25">30</text>
<line x1="46.50" y1="722.80" x2="51.00" y2="722.80" stroke="#000" stroke-width="1.8"/>
<text x="47.00" y="725.66" font-size="8" font-weight="bold" text-anchor="end" stroke="#000" stroke-width="0.25">40</text>
<line x1="46.50" y1="700.50" x2="51.00" y2="700.50" stroke="#000" stroke-width="1.8"/>
<text x="47.00" y="703.36" font-size="8" font-weight="bold" text-anchor="end" stroke="#000" stroke-width="0.25">50</text>
<line x1="65.30" y1="811.60" x2="65.30" y2="815.60" stroke="#000" stroke-width="1.8"/>
<line x1="93.00" y1="811.60" x2="93.00" y2="815.60" stroke="#000" stroke-width="1.8"/>
<line x1="121.00" y1="811.60" x2="121.00" y2="815.60" stroke="#000" stroke-width="1.8"/>
<line x1="149.00" y1="811.60" x2="149.00" y2="815.60" stroke="#000" stroke-width="1.8"/>
<line x1="177.00" y1="811.60" x2="177.00" y2="815.60" stroke="#000" stroke-width="1.8"/>
<line x1="205.00" y1="811.60" x2="205.00" y2="815.60" stroke="#000" stroke-width="1.8"/>
<text x="28.90" y="755.00" font-size="11.8" text-anchor="middle" textLength="117.00" lengthAdjust="spacingAndGlyphs" transform="rotate(-90 28.90 755.00)" style="stroke-width:0.55px">% of c-kit+ NK cells</text>
<circle cx="59.40" cy="739.00" r="2.20" fill="#fff" stroke="#000" stroke-width="1.45"/>
<circle cx="71.00" cy="741.50" r="2.20" fill="#fff" stroke="#000" stroke-width="1.45"/>
<circle cx="65.20" cy="744.80" r="2.20" fill="#fff" stroke="#000" stroke-width="1.45"/>
<circle cx="62.30" cy="752.50" r="2.20" fill="#fff" stroke="#000" stroke-width="1.45"/>
<circle cx="68.50" cy="757.70" r="2.20" fill="#fff" stroke="#000" stroke-width="1.45"/>
<circle cx="62.00" cy="774.60" r="2.20" fill="#fff" stroke="#000" stroke-width="1.45"/>
<circle cx="68.50" cy="772.30" r="2.20" fill="#fff" stroke="#000" stroke-width="1.45"/>
<line x1="65.20" y1="740.40" x2="65.20" y2="768.50" stroke="#000" stroke-width="1.6"/>
<line x1="60.45" y1="740.40" x2="69.95" y2="740.40" stroke="#000" stroke-width="1.6"/>
<line x1="60.45" y1="768.50" x2="69.95" y2="768.50" stroke="#000" stroke-width="1.6"/>
<line x1="56.20" y1="754.00" x2="74.20" y2="754.00" stroke="#000" stroke-width="1.6"/>
<circle cx="87.30" cy="753.00" r="2.20" fill="#fff" stroke="#000" stroke-width="1.45"/>
<circle cx="99.20" cy="753.00" r="2.20" fill="#fff" stroke="#000" stroke-width="1.45"/>
<circle cx="93.00" cy="756.30" r="2.20" fill="#fff" stroke="#000" stroke-width="1.45"/>
<circle cx="87.30" cy="768.80" r="2.20" fill="#fff" stroke="#000" stroke-width="1.45"/>
<circle cx="99.20" cy="767.90" r="2.20" fill="#fff" stroke="#000" stroke-width="1.45"/>
<circle cx="93.00" cy="772.70" r="2.20" fill="#fff" stroke="#000" stroke-width="1.45"/>
<circle cx="93.00" cy="780.40" r="2.20" fill="#fff" stroke="#000" stroke-width="1.45"/>
<line x1="93.00" y1="754.40" x2="93.00" y2="775.60" stroke="#000" stroke-width="1.6"/>
<line x1="88.25" y1="754.40" x2="97.75" y2="754.40" stroke="#000" stroke-width="1.6"/>
<line x1="88.25" y1="775.60" x2="97.75" y2="775.60" stroke="#000" stroke-width="1.6"/>
<line x1="83.50" y1="764.60" x2="102.50" y2="764.60" stroke="#000" stroke-width="1.6"/>
<circle cx="121.30" cy="715.00" r="2.20" fill="#fff" stroke="#000" stroke-width="1.45"/>
<circle cx="121.00" cy="742.90" r="2.20" fill="#fff" stroke="#000" stroke-width="1.45"/>
<circle cx="117.10" cy="747.70" r="2.20" fill="#fff" stroke="#000" stroke-width="1.45"/>
<circle cx="115.20" cy="755.40" r="2.20" fill="#fff" stroke="#000" stroke-width="1.45"/>
<circle cx="123.80" cy="753.50" r="2.20" fill="#fff" stroke="#000" stroke-width="1.45"/>
<circle cx="127.30" cy="758.30" r="2.20" fill="#fff" stroke="#000" stroke-width="1.45"/>
<circle cx="121.00" cy="761.20" r="2.20" fill="#fff" stroke="#000" stroke-width="1.45"/>
<line x1="121.30" y1="732.00" x2="121.30" y2="763.50" stroke="#000" stroke-width="1.6"/>
<line x1="116.55" y1="732.00" x2="126.05" y2="732.00" stroke="#000" stroke-width="1.6"/>
<line x1="116.55" y1="763.50" x2="126.05" y2="763.50" stroke="#000" stroke-width="1.6"/>
<line x1="112.80" y1="747.70" x2="129.80" y2="747.70" stroke="#000" stroke-width="1.6"/>
<circle cx="148.70" cy="722.70" r="2.20" fill="#fff" stroke="#000" stroke-width="1.45"/>
<circle cx="148.70" cy="743.80" r="2.20" fill="#fff" stroke="#000" stroke-width="1.45"/>
<circle cx="142.50" cy="756.70" r="2.20" fill="#fff" stroke="#000" stroke-width="1.45"/>
<circle cx="148.80" cy="754.80" r="2.20" fill="#fff" stroke="#000" stroke-width="1.45"/>
<circle cx="154.60" cy="757.30" r="2.20" fill="#fff" stroke="#000" stroke-width="1.45"/>
<circle cx="148.80" cy="763.50" r="2.20" fill="#fff" stroke="#000" stroke-width="1.45"/>
<line x1="148.70" y1="736.50" x2="148.70" y2="764.40" stroke="#000" stroke-width="1.6"/>
<line x1="143.95" y1="736.50" x2="153.45" y2="736.50" stroke="#000" stroke-width="1.6"/>
<line x1="143.95" y1="764.40" x2="153.45" y2="764.40" stroke="#000" stroke-width="1.6"/>
<line x1="139.20" y1="751.00" x2="158.20" y2="751.00" stroke="#000" stroke-width="1.6"/>
<circle cx="173.30" cy="762.00" r="2.20" fill="#fff" stroke="#000" stroke-width="1.45"/>
<circle cx="180.00" cy="761.20" r="2.20" fill="#fff" stroke="#000" stroke-width="1.45"/>
<circle cx="173.80" cy="766.30" r="2.20" fill="#fff" stroke="#000" stroke-width="1.45"/>
<circle cx="180.40" cy="771.50" r="2.20" fill="#fff" stroke="#000" stroke-width="1.45"/>
<circle cx="176.50" cy="778.50" r="2.20" fill="#fff" stroke="#000" stroke-width="1.45"/>
<line x1="176.70" y1="761.00" x2="176.70" y2="774.60" stroke="#000" stroke-width="1.6"/>
<line x1="171.95" y1="761.00" x2="181.45" y2="761.00" stroke="#000" stroke-width="1.6"/>
<line x1="171.95" y1="774.60" x2="181.45" y2="774.60" stroke="#000" stroke-width="1.6"/>
<line x1="167.35" y1="767.70" x2="186.05" y2="767.70" stroke="#000" stroke-width="1.6"/>
<circle cx="204.60" cy="755.80" r="2.20" fill="#fff" stroke="#000" stroke-width="1.45"/>
<circle cx="198.30" cy="767.30" r="2.20" fill="#fff" stroke="#000" stroke-width="1.45"/>
<circle cx="210.80" cy="767.30" r="2.20" fill="#fff" stroke="#000" stroke-width="1.45"/>
<circle cx="204.60" cy="770.20" r="2.20" fill="#fff" stroke="#000" stroke-width="1.45"/>
<circle cx="204.60" cy="784.60" r="2.20" fill="#fff" stroke="#000" stroke-width="1.45"/>
<line x1="204.60" y1="757.70" x2="204.60" y2="778.80" stroke="#000" stroke-width="1.6"/>
<line x1="199.85" y1="757.70" x2="209.35" y2="757.70" stroke="#000" stroke-width="1.6"/>
<line x1="199.85" y1="778.80" x2="209.35" y2="778.80" stroke="#000" stroke-width="1.6"/>
<line x1="195.90" y1="768.80" x2="213.30" y2="768.80" stroke="#000" stroke-width="1.6"/>
<text x="65.30" y="824.50" font-size="8.5" font-weight="bold" text-anchor="end" transform="rotate(-30 65.30 824.50)" style="stroke-width:0.1px">WT</text>
<text x="92.75" y="823.20" font-size="8.5" font-weight="bold" text-anchor="end" transform="rotate(-30 92.75 823.20)" style="stroke-width:0.1px">NKG2D KO</text>
<text x="121.25" y="824.40" font-size="8.5" font-weight="bold" text-anchor="end" transform="rotate(-30 121.25 824.40)" style="stroke-width:0.1px">WT</text>
<text x="149.65" y="824.20" font-size="8.5" font-weight="bold" text-anchor="end" transform="rotate(-30 149.65 824.20)" style="stroke-width:0.1px">NKp46 KO</text>
<text x="176.85" y="824.65" font-size="8.5" font-weight="bold" text-anchor="end" transform="rotate(-30 176.85 824.65)" style="stroke-width:0.1px">WT</text>
<text x="206.80" y="822.80" font-size="8.5" font-weight="bold" text-anchor="end" transform="rotate(-30 206.80 822.80)" style="stroke-width:0.1px">DKO</text>
<text x="270.90" y="136.60" font-size="22.6" font-weight="bold" style="stroke-width:1.2px">D</text>
<defs><pattern id="ck" width="4" height="4" patternUnits="userSpaceOnUse"><rect width="4" height="4" fill="#000"/><rect x="0.4" y="0.4" width="2" height="2" fill="#fff"/><rect x="2.4" y="2.4" width="2" height="2" fill="#fff"/></pattern></defs>
<line x1="314.40" y1="152.10" x2="314.40" y2="270.80" stroke="#000" stroke-width="1.6"/>
<line x1="311.40" y1="270.80" x2="470.00" y2="270.80" stroke="#000" stroke-width="1.6"/>
<line x1="310.90" y1="270.80" x2="314.40" y2="270.80" stroke="#000" stroke-width="1.4"/>
<text x="310.40" y="273.30" font-size="7" text-anchor="end">0</text>
<line x1="310.90" y1="231.40" x2="314.40" y2="231.40" stroke="#000" stroke-width="1.4"/>
<text x="310.40" y="233.90" font-size="7" text-anchor="end">20</text>
<line x1="310.90" y1="192.00" x2="314.40" y2="192.00" stroke="#000" stroke-width="1.4"/>
<text x="310.40" y="194.50" font-size="7" text-anchor="end">40</text>
<line x1="310.90" y1="152.60" x2="314.40" y2="152.60" stroke="#000" stroke-width="1.4"/>
<text x="310.40" y="155.10" font-size="7" text-anchor="end">60</text>
<rect x="321.2" y="156.79999999999998" width="13.8" height="8.9" fill="#000"/>
<rect x="321.9" y="167.5" width="12.4" height="7.4" fill="url(#ck)" stroke="#000" stroke-width="1.4"/>
<text x="339.50" y="164.40" font-size="8.4" font-weight="bold">WT</text>
<text x="339.50" y="174.40" font-size="8.3" font-weight="bold">NKG2D KO</text>
<text x="294.00" y="211.00" font-size="14" text-anchor="middle" textLength="78.20" lengthAdjust="spacingAndGlyphs" transform="rotate(-90 294.00 211.00)" style="stroke-width:0.55px">% of  NK cells</text>
<rect x="320.40" y="264.60" width="12.10" height="6.20" fill="#000"/>
<line x1="326.45" y1="262.70" x2="326.45" y2="264.60" stroke="#000" stroke-width="1.3"/>
<line x1="322.95" y1="262.70" x2="329.95" y2="262.70" stroke="#000" stroke-width="1.4"/>
<rect x="335.40" y="265.00" width="11.90" height="5.80" fill="url(#ck)" stroke="#000" stroke-width="1.6"/>
<line x1="341.35" y1="262.70" x2="341.35" y2="265.00" stroke="#000" stroke-width="1.3"/>
<line x1="337.85" y1="262.70" x2="344.85" y2="262.70" stroke="#000" stroke-width="1.4"/>
<rect x="359.20" y="224.30" width="12.00" height="46.50" fill="#000"/>
<line x1="365.20" y1="212.30" x2="365.20" y2="224.30" stroke="#000" stroke-width="1.3"/>
<line x1="361.70" y1="212.30" x2="368.70" y2="212.30" stroke="#000" stroke-width="1.4"/>
<rect x="374.90" y="230.30" width="10.90" height="40.50" fill="url(#ck)" stroke="#000" stroke-width="1.6"/>
<line x1="380.35" y1="222.70" x2="380.35" y2="230.30" stroke="#000" stroke-width="1.3"/>
<line x1="376.85" y1="222.70" x2="383.85" y2="222.70" stroke="#000" stroke-width="1.4"/>
<rect x="398.50" y="216.20" width="12.00" height="54.60" fill="#000"/>
<line x1="404.50" y1="208.40" x2="404.50" y2="216.20" stroke="#000" stroke-width="1.3"/>
<line x1="401.00" y1="208.40" x2="408.00" y2="208.40" stroke="#000" stroke-width="1.4"/>
<rect x="413.50" y="221.50" width="11.50" height="49.30" fill="url(#ck)" stroke="#000" stroke-width="1.6"/>
<line x1="419.25" y1="216.90" x2="419.25" y2="221.50" stroke="#000" stroke-width="1.3"/>
<line x1="415.75" y1="216.90" x2="422.75" y2="216.90" stroke="#000" stroke-width="1.4"/>
<rect x="437.70" y="198.50" width="11.50" height="72.30" fill="#000"/>
<line x1="443.45" y1="185.10" x2="443.45" y2="198.50" stroke="#000" stroke-width="1.3"/>
<line x1="439.95" y1="185.10" x2="446.95" y2="185.10" stroke="#000" stroke-width="1.4"/>
<rect x="452.70" y="189.20" width="11.50" height="81.60" fill="url(#ck)" stroke="#000" stroke-width="1.6"/>
<line x1="458.45" y1="177.20" x2="458.45" y2="189.20" stroke="#000" stroke-width="1.3"/>
<line x1="454.95" y1="177.20" x2="461.95" y2="177.20" stroke="#000" stroke-width="1.4"/>
<text x="322.30" y="286.30" font-size="8.6" font-weight="bold" text-anchor="middle">DN</text>
<text x="367.90" y="286.30" font-size="8.6" font-weight="bold" text-anchor="middle">CD27hi</text>
<text x="412.60" y="286.30" font-size="8.6" font-weight="bold" text-anchor="middle">DP</text>
<text x="454.20" y="286.30" font-size="8.6" font-weight="bold" text-anchor="middle">CD27lo</text>
<line x1="310.50" y1="304.50" x2="310.50" y2="427.50" stroke="#000" stroke-width="1.6"/>
<line x1="307.50" y1="427.50" x2="468.00" y2="427.50" stroke="#000" stroke-width="1.6"/>
<line x1="307.00" y1="427.50" x2="310.50" y2="427.50" stroke="#000" stroke-width="1.4"/>
<text x="306.50" y="430.00" font-size="7" text-anchor="end">0</text>
<line x1="307.00" y1="386.67" x2="310.50" y2="386.67" stroke="#000" stroke-width="1.4"/>
<text x="306.50" y="389.17" font-size="7" text-anchor="end">20</text>
<line x1="307.00" y1="345.83" x2="310.50" y2="345.83" stroke="#000" stroke-width="1.4"/>
<text x="306.50" y="348.33" font-size="7" text-anchor="end">40</text>
<line x1="307.00" y1="305.00" x2="310.50" y2="305.00" stroke="#000" stroke-width="1.4"/>
<text x="306.50" y="307.50" font-size="7" text-anchor="end">60</text>
<rect x="314.8" y="308.0" width="13.8" height="8.9" fill="#000"/>
<rect x="315.5" y="318.7" width="12.4" height="7.4" fill="url(#ck)" stroke="#000" stroke-width="1.4"/>
<text x="333.10" y="315.60" font-size="8.4" font-weight="bold">WT</text>
<text x="333.10" y="325.60" font-size="8.3" font-weight="bold">NKp46 KO</text>
<text x="290.50" y="365.50" font-size="14" text-anchor="middle" textLength="81.30" lengthAdjust="spacingAndGlyphs" transform="rotate(-90 290.50 365.50)" style="stroke-width:0.55px">% of  NK cells</text>
<rect x="318.10" y="418.30" width="11.40" height="9.20" fill="#000"/>
<line x1="323.80" y1="414.30" x2="323.80" y2="418.30" stroke="#000" stroke-width="1.3"/>
<line x1="320.30" y1="414.30" x2="327.30" y2="414.30" stroke="#000" stroke-width="1.4"/>
<rect x="332.80" y="415.60" width="11.40" height="11.90" fill="url(#ck)" stroke="#000" stroke-width="1.6"/>
<line x1="338.50" y1="409.40" x2="338.50" y2="415.60" stroke="#000" stroke-width="1.3"/>
<line x1="335.00" y1="409.40" x2="342.00" y2="409.40" stroke="#000" stroke-width="1.4"/>
<rect x="358.00" y="378.00" width="11.40" height="49.50" fill="#000"/>
<line x1="363.70" y1="369.90" x2="363.70" y2="378.00" stroke="#000" stroke-width="1.3"/>
<line x1="360.20" y1="369.90" x2="367.20" y2="369.90" stroke="#000" stroke-width="1.4"/>
<rect x="373.60" y="373.50" width="10.80" height="54.00" fill="url(#ck)" stroke="#000" stroke-width="1.6"/>
<line x1="379.00" y1="364.30" x2="379.00" y2="373.50" stroke="#000" stroke-width="1.3"/>
<line x1="375.50" y1="364.30" x2="382.50" y2="364.30" stroke="#000" stroke-width="1.4"/>
<rect x="398.20" y="381.30" width="11.40" height="46.20" fill="#000"/>
<line x1="403.90" y1="373.20" x2="403.90" y2="381.30" stroke="#000" stroke-width="1.3"/>
<line x1="400.40" y1="373.20" x2="407.40" y2="373.20" stroke="#000" stroke-width="1.4"/>
<rect x="413.50" y="379.70" width="11.50" height="47.80" fill="url(#ck)" stroke="#000" stroke-width="1.6"/>
<line x1="419.25" y1="368.20" x2="419.25" y2="379.70" stroke="#000" stroke-width="1.3"/>
<line x1="415.75" y1="368.20" x2="422.75" y2="368.20" stroke="#000" stroke-width="1.4"/>
<rect x="437.40" y="349.00" width="12.40" height="78.50" fill="#000"/>
<line x1="443.60" y1="336.50" x2="443.60" y2="349.00" stroke="#000" stroke-width="1.3"/>
<line x1="440.10" y1="336.50" x2="447.10" y2="336.50" stroke="#000" stroke-width="1.4"/>
<rect x="453.70" y="356.80" width="11.50" height="70.70" fill="url(#ck)" stroke="#000" stroke-width="1.6"/>
<line x1="459.45" y1="343.70" x2="459.45" y2="356.80" stroke="#000" stroke-width="1.3"/>
<line x1="455.95" y1="343.70" x2="462.95" y2="343.70" stroke="#000" stroke-width="1.4"/>
<text x="319.70" y="446.30" font-size="8.6" font-weight="bold" text-anchor="middle">DN</text>
<text x="367.10" y="446.30" font-size="8.6" font-weight="bold" text-anchor="middle">CD27hi</text>
<text x="411.20" y="446.30" font-size="8.6" font-weight="bold" text-anchor="middle">DP</text>
<text x="455.40" y="446.30" font-size="8.6" font-weight="bold" text-anchor="middle">CD27lo</text>
<line x1="314.00" y1="471.40" x2="314.00" y2="595.20" stroke="#000" stroke-width="1.6"/>
<line x1="311.00" y1="595.20" x2="475.00" y2="595.20" stroke="#000" stroke-width="1.6"/>
<line x1="310.50" y1="595.20" x2="314.00" y2="595.20" stroke="#000" stroke-width="1.4"/>
<text x="310.00" y="597.70" font-size="7" text-anchor="end">0</text>
<line x1="310.50" y1="554.10" x2="314.00" y2="554.10" stroke="#000" stroke-width="1.4"/>
<text x="310.00" y="556.60" font-size="7" text-anchor="end">20</text>
<line x1="310.50" y1="513.00" x2="314.00" y2="513.00" stroke="#000" stroke-width="1.4"/>
<text x="310.00" y="515.50" font-size="7" text-anchor="end">40</text>
<line x1="310.50" y1="471.90" x2="314.00" y2="471.90" stroke="#000" stroke-width="1.4"/>
<text x="310.00" y="474.40" font-size="7" text-anchor="end">60</text>
<rect x="321.9" y="477.0" width="13.8" height="8.9" fill="#000"/>
<rect x="322.59999999999997" y="487.7" width="12.4" height="7.4" fill="url(#ck)" stroke="#000" stroke-width="1.4"/>
<text x="340.20" y="484.60" font-size="8.4" font-weight="bold">WT</text>
<text x="340.20" y="494.60" font-size="8.3" font-weight="bold">DKO</text>
<text x="292.00" y="533.00" font-size="14" text-anchor="middle" textLength="81.50" lengthAdjust="spacingAndGlyphs" transform="rotate(-90 292.00 533.00)" style="stroke-width:0.55px">% of  NK cells</text>
<rect x="320.70" y="591.80" width="11.10" height="3.40" fill="#000"/>
<rect x="336.00" y="590.20" width="10.80" height="5.00" fill="url(#ck)" stroke="#000" stroke-width="1.6"/>
<line x1="341.40" y1="588.90" x2="341.40" y2="590.20" stroke="#000" stroke-width="1.3"/>
<line x1="337.90" y1="588.90" x2="344.90" y2="588.90" stroke="#000" stroke-width="1.4"/>
<rect x="360.60" y="562.40" width="11.40" height="32.80" fill="#000"/>
<line x1="366.30" y1="554.50" x2="366.30" y2="562.40" stroke="#000" stroke-width="1.3"/>
<line x1="362.80" y1="554.50" x2="369.80" y2="554.50" stroke="#000" stroke-width="1.4"/>
<rect x="376.30" y="558.50" width="11.10" height="36.70" fill="url(#ck)" stroke="#000" stroke-width="1.6"/>
<line x1="381.85" y1="551.30" x2="381.85" y2="558.50" stroke="#000" stroke-width="1.3"/>
<line x1="378.35" y1="551.30" x2="385.35" y2="551.30" stroke="#000" stroke-width="1.4"/>
<rect x="401.40" y="543.70" width="11.50" height="51.50" fill="#000"/>
<line x1="407.15" y1="534.90" x2="407.15" y2="543.70" stroke="#000" stroke-width="1.3"/>
<line x1="403.65" y1="534.90" x2="410.65" y2="534.90" stroke="#000" stroke-width="1.4"/>
<rect x="416.10" y="549.60" width="11.50" height="45.60" fill="url(#ck)" stroke="#000" stroke-width="1.6"/>
<line x1="421.85" y1="544.40" x2="421.85" y2="549.60" stroke="#000" stroke-width="1.3"/>
<line x1="418.35" y1="544.40" x2="425.35" y2="544.40" stroke="#000" stroke-width="1.4"/>
<rect x="441.60" y="499.00" width="11.20" height="96.20" fill="#000"/>
<line x1="447.20" y1="495.40" x2="447.20" y2="499.00" stroke="#000" stroke-width="1.3"/>
<line x1="443.70" y1="495.40" x2="450.70" y2="495.40" stroke="#000" stroke-width="1.4"/>
<rect x="456.40" y="496.30" width="11.10" height="98.90" fill="url(#ck)" stroke="#000" stroke-width="1.6"/>
<line x1="461.95" y1="489.20" x2="461.95" y2="496.30" stroke="#000" stroke-width="1.3"/>
<line x1="458.45" y1="489.20" x2="465.45" y2="489.20" stroke="#000" stroke-width="1.4"/>
<text x="321.30" y="610.50" font-size="8.6" font-weight="bold" text-anchor="middle">DN</text>
<text x="370.40" y="610.50" font-size="8.6" font-weight="bold" text-anchor="middle">CD27hi</text>
<text x="415.20" y="610.50" font-size="8.6" font-weight="bold" text-anchor="middle">DP</text>
<text x="458.60" y="610.50" font-size="8.6" font-weight="bold" text-anchor="middle">CD27lo</text>
<text x="271.50" y="672.90" font-size="22.5" font-weight="bold" style="stroke-width:1.2px">E</text>
<line x1="310.20" y1="679.90" x2="310.20" y2="799.80" stroke="#000" stroke-width="1.8"/>
<line x1="306.00" y1="799.80" x2="490.00" y2="799.80" stroke="#000" stroke-width="1.8"/>
<line x1="305.20" y1="799.80" x2="310.20" y2="799.80" stroke="#000" stroke-width="1.8"/>
<text x="305.00" y="803.67" font-size="10.8" font-weight="bold" text-anchor="end" stroke="#000" stroke-width="0.25">0</text>
<line x1="305.20" y1="770.20" x2="310.20" y2="770.20" stroke="#000" stroke-width="1.8"/>
<text x="305.00" y="774.07" font-size="10.8" font-weight="bold" text-anchor="end" stroke="#000" stroke-width="0.25">5</text>
<line x1="305.20" y1="740.10" x2="310.20" y2="740.10" stroke="#000" stroke-width="1.8"/>
<text x="305.00" y="743.97" font-size="10.8" font-weight="bold" text-anchor="end" stroke="#000" stroke-width="0.25">10</text>
<line x1="305.20" y1="710.00" x2="310.20" y2="710.00" stroke="#000" stroke-width="1.8"/>
<text x="305.00" y="713.87" font-size="10.8" font-weight="bold" text-anchor="end" stroke="#000" stroke-width="0.25">15</text>
<line x1="305.20" y1="679.80" x2="310.20" y2="679.80" stroke="#000" stroke-width="1.8"/>
<text x="305.00" y="683.67" font-size="10.8" font-weight="bold" text-anchor="end" stroke="#000" stroke-width="0.25">20</text>
<line x1="322.70" y1="799.80" x2="322.70" y2="803.80" stroke="#000" stroke-width="1.8"/>
<line x1="346.70" y1="799.80" x2="346.70" y2="803.80" stroke="#000" stroke-width="1.8"/>
<line x1="386.20" y1="799.80" x2="386.20" y2="803.80" stroke="#000" stroke-width="1.8"/>
<line x1="412.00" y1="799.80" x2="412.00" y2="803.80" stroke="#000" stroke-width="1.8"/>
<line x1="453.00" y1="799.80" x2="453.00" y2="803.80" stroke="#000" stroke-width="1.8"/>
<line x1="478.00" y1="799.80" x2="478.00" y2="803.80" stroke="#000" stroke-width="1.8"/>
<text x="285.1" y="744.6" font-size="13.4" text-anchor="middle" transform="rotate(-90 285.1 744.6)" textLength="115.4" lengthAdjust="spacingAndGlyphs" style="stroke-width:0.55px">% IFN-γ<tspan dy="-4" font-size="9">+</tspan><tspan dy="4"> NK cells</tspan></text>
<line x1="319.80" y1="713.20" x2="348.20" y2="713.20" stroke="#222" stroke-width="1.3"/>
<circle cx="324.30" cy="708.20" r="1.45" fill="#000"/>
<circle cx="322.70" cy="747.90" r="2.80" fill="#fff" stroke="#000" stroke-width="1.6"/>
<circle cx="327.00" cy="759.00" r="2.80" fill="#fff" stroke="#000" stroke-width="1.6"/>
<circle cx="318.80" cy="764.60" r="2.80" fill="#fff" stroke="#000" stroke-width="1.6"/>
<circle cx="318.30" cy="781.20" r="2.80" fill="#fff" stroke="#000" stroke-width="1.6"/>
<circle cx="326.50" cy="781.90" r="2.80" fill="#fff" stroke="#000" stroke-width="1.6"/>
<circle cx="319.20" cy="799.20" r="2.80" fill="#fff" stroke="#000" stroke-width="1.6"/>
<circle cx="326.00" cy="799.20" r="2.80" fill="#fff" stroke="#000" stroke-width="1.6"/>
<line x1="322.70" y1="756.20" x2="322.70" y2="799.20" stroke="#000" stroke-width="1.6"/>
<line x1="318.45" y1="756.20" x2="326.95" y2="756.20" stroke="#000" stroke-width="1.6"/>
<line x1="318.45" y1="799.20" x2="326.95" y2="799.20" stroke="#000" stroke-width="1.6"/>
<line x1="314.50" y1="776.70" x2="330.90" y2="776.70" stroke="#000" stroke-width="1.6"/>
<circle cx="346.50" cy="737.00" r="2.80" fill="#fff" stroke="#000" stroke-width="1.6"/>
<circle cx="351.00" cy="745.00" r="2.80" fill="#fff" stroke="#000" stroke-width="1.6"/>
<circle cx="343.30" cy="748.80" r="2.80" fill="#fff" stroke="#000" stroke-width="1.6"/>
<circle cx="342.70" cy="753.70" r="2.80" fill="#fff" stroke="#000" stroke-width="1.6"/>
<circle cx="351.00" cy="759.40" r="2.80" fill="#fff" stroke="#000" stroke-width="1.6"/>
<circle cx="351.00" cy="765.80" r="2.80" fill="#fff" stroke="#000" stroke-width="1.6"/>
<circle cx="342.70" cy="771.50" r="2.80" fill="#fff" stroke="#000" stroke-width="1.6"/>
<line x1="346.50" y1="742.70" x2="346.50" y2="766.20" stroke="#000" stroke-width="1.6"/>
<line x1="342.25" y1="742.70" x2="350.75" y2="742.70" stroke="#000" stroke-width="1.6"/>
<line x1="342.25" y1="766.20" x2="350.75" y2="766.20" stroke="#000" stroke-width="1.6"/>
<line x1="338.30" y1="754.60" x2="354.70" y2="754.60" stroke="#000" stroke-width="1.6"/>
<circle cx="387.50" cy="749.80" r="2.80" fill="#fff" stroke="#000" stroke-width="1.6"/>
<circle cx="387.50" cy="759.40" r="2.80" fill="#fff" stroke="#000" stroke-width="1.6"/>
<circle cx="382.70" cy="774.20" r="2.80" fill="#fff" stroke="#000" stroke-width="1.6"/>
<circle cx="392.30" cy="774.80" r="2.80" fill="#fff" stroke="#000" stroke-width="1.6"/>
<circle cx="390.40" cy="779.60" r="2.80" fill="#fff" stroke="#000" stroke-width="1.6"/>
<circle cx="383.00" cy="784.40" r="2.80" fill="#fff" stroke="#000" stroke-width="1.6"/>
<line x1="387.50" y1="757.50" x2="387.50" y2="781.50" stroke="#000" stroke-width="1.6"/>
<line x1="383.25" y1="757.50" x2="391.75" y2="757.50" stroke="#000" stroke-width="1.6"/>
<line x1="383.25" y1="781.50" x2="391.75" y2="781.50" stroke="#000" stroke-width="1.6"/>
<line x1="379.30" y1="770.40" x2="395.70" y2="770.40" stroke="#000" stroke-width="1.6"/>
<circle cx="408.80" cy="758.70" r="2.80" fill="#fff" stroke="#000" stroke-width="1.6"/>
<circle cx="415.00" cy="758.70" r="2.80" fill="#fff" stroke="#000" stroke-width="1.6"/>
<circle cx="412.10" cy="764.40" r="2.80" fill="#fff" stroke="#000" stroke-width="1.6"/>
<circle cx="412.10" cy="777.90" r="2.80" fill="#fff" stroke="#000" stroke-width="1.6"/>
<circle cx="408.30" cy="790.40" r="2.80" fill="#fff" stroke="#000" stroke-width="1.6"/>
<circle cx="416.50" cy="787.50" r="2.80" fill="#fff" stroke="#000" stroke-width="1.6"/>
<line x1="412.10" y1="759.00" x2="412.10" y2="787.00" stroke="#000" stroke-width="1.6"/>
<line x1="407.85" y1="759.00" x2="416.35" y2="759.00" stroke="#000" stroke-width="1.6"/>
<line x1="407.85" y1="787.00" x2="416.35" y2="787.00" stroke="#000" stroke-width="1.6"/>
<line x1="404.10" y1="773.50" x2="420.10" y2="773.50" stroke="#000" stroke-width="1.6"/>
<circle cx="452.50" cy="744.20" r="2.80" fill="#fff" stroke="#000" stroke-width="1.6"/>
<circle cx="448.70" cy="763.80" r="2.80" fill="#fff" stroke="#000" stroke-width="1.6"/>
<circle cx="457.00" cy="767.00" r="2.80" fill="#fff" stroke="#000" stroke-width="1.6"/>
<circle cx="457.00" cy="788.80" r="2.80" fill="#fff" stroke="#000" stroke-width="1.6"/>
<circle cx="448.70" cy="793.30" r="2.80" fill="#fff" stroke="#000" stroke-width="1.6"/>
<line x1="452.50" y1="751.50" x2="452.50" y2="791.50" stroke="#000" stroke-width="1.6"/>
<line x1="448.25" y1="751.50" x2="456.75" y2="751.50" stroke="#000" stroke-width="1.6"/>
<line x1="448.25" y1="791.50" x2="456.75" y2="791.50" stroke="#000" stroke-width="1.6"/>
<line x1="444.15" y1="771.50" x2="460.85" y2="771.50" stroke="#000" stroke-width="1.6"/>
<circle cx="477.50" cy="708.70" r="2.80" fill="#fff" stroke="#000" stroke-width="1.6"/>
<circle cx="473.70" cy="738.00" r="2.80" fill="#fff" stroke="#000" stroke-width="1.6"/>
<circle cx="481.90" cy="741.30" r="2.80" fill="#fff" stroke="#000" stroke-width="1.6"/>
<circle cx="481.90" cy="757.30" r="2.80" fill="#fff" stroke="#000" stroke-width="1.6"/>
<circle cx="473.70" cy="763.50" r="2.80" fill="#fff" stroke="#000" stroke-width="1.6"/>
<line x1="477.50" y1="720.20" x2="477.50" y2="763.50" stroke="#000" stroke-width="1.6"/>
<line x1="473.25" y1="720.20" x2="481.75" y2="720.20" stroke="#000" stroke-width="1.6"/>
<line x1="473.25" y1="763.50" x2="481.75" y2="763.50" stroke="#000" stroke-width="1.6"/>
<line x1="469.30" y1="741.90" x2="485.70" y2="741.90" stroke="#000" stroke-width="1.6"/>
<text x="325.00" y="814.50" font-size="11.4" font-weight="bold" text-anchor="end" transform="rotate(-30 325.00 814.50)" style="stroke-width:0.1px">WT</text>
<text x="350.05" y="813.55" font-size="11.4" font-weight="bold" text-anchor="end" transform="rotate(-30 350.05 813.55)" style="stroke-width:0.1px">NKG2D KO</text>
<text x="390.25" y="813.70" font-size="11.4" font-weight="bold" text-anchor="end" transform="rotate(-30 390.25 813.70)" style="stroke-width:0.1px">WT</text>
<text x="415.00" y="813.25" font-size="11.4" font-weight="bold" text-anchor="end" transform="rotate(-30 415.00 813.25)" style="stroke-width:0.1px">NKp46 KO</text>
<text x="456.05" y="814.25" font-size="11.4" font-weight="bold" text-anchor="end" transform="rotate(-30 456.05 814.25)" style="stroke-width:0.1px">WT</text>
<text x="480.65" y="814.40" font-size="11.4" font-weight="bold" text-anchor="end" transform="rotate(-30 480.65 814.40)" style="stroke-width:0.1px">DKO</text>
</svg>
</body></html>
